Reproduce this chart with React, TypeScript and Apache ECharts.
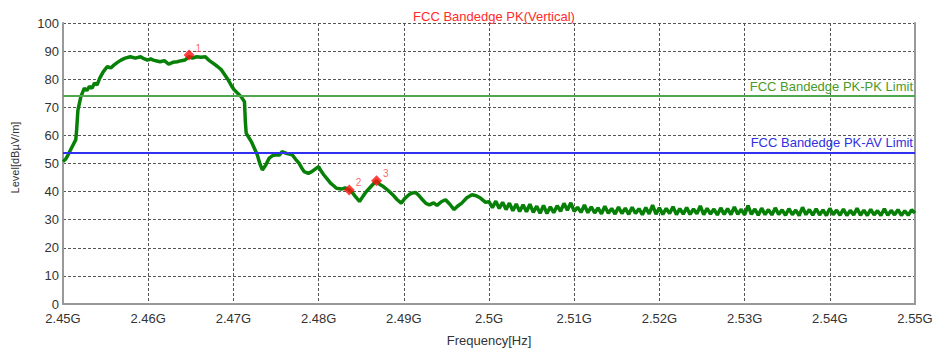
import React, { useEffect, useRef } from "react";
import * as echarts from "echarts";

const titleText = "FCC Bandedge PK(Vertical)";
const xName = "Frequency[Hz]";
const yName = "Level[dBµV/m]";

const xTicksMHz = [2450, 2460, 2470, 2480, 2490, 2500, 2510, 2520, 2530, 2540, 2550];
const yTicks = [0, 10, 20, 30, 40, 50, 60, 70, 80, 90, 100];

const pkLimitName = "FCC Bandedge PK-PK Limit";
const pkLimit = 74;
const avLimitName = "FCC Bandedge PK-AV Limit";
const avLimit = 54;

// trace, part 1: frequency (MHz) and level (dBµV/m), 2450–2499.6 MHz
const traceFreq = [
  2450.0, 2450.3, 2450.6, 2451.0, 2451.5, 2451.6, 2451.75, 2452.1, 2452.5, 2452.8,
  2453.1, 2453.4, 2453.7, 2454.0, 2454.3, 2454.7, 2455.2, 2455.6, 2456.0, 2456.4,
  2456.8, 2457.3, 2457.9, 2458.5, 2459.1, 2459.5, 2459.9, 2460.3, 2460.6, 2461.0,
  2461.4, 2461.9, 2462.4, 2462.9, 2463.4, 2463.9, 2464.3, 2464.8, 2465.2, 2465.7,
  2466.2, 2466.7, 2467.1, 2467.6, 2468.1, 2468.6, 2469.0, 2469.4, 2469.8, 2470.1,
  2470.5, 2470.9, 2471.3, 2471.4, 2471.5, 2472.1, 2472.8, 2473.1, 2473.4, 2473.8,
  2474.2, 2474.6, 2475.0, 2475.4, 2475.7, 2476.3, 2476.9, 2477.3, 2477.7, 2478.0,
  2478.3, 2478.8, 2479.2, 2479.6, 2480.0, 2480.3, 2480.6, 2481.0, 2481.4, 2481.8,
  2482.1, 2482.7, 2483.1, 2483.6, 2484.0, 2484.3, 2484.8, 2485.2, 2485.6, 2486.2,
  2486.8, 2487.2, 2487.6, 2488.2, 2488.7, 2489.2, 2489.7, 2490.1, 2490.6, 2491.0,
  2491.4, 2491.8, 2492.2, 2492.6, 2493.0, 2493.5, 2493.9, 2494.4, 2494.9, 2495.4,
  2495.9, 2496.3, 2496.8, 2497.4, 2498.0, 2498.5, 2499.0, 2499.6,
];
const traceLevel = [
  50.7, 51.5, 53.1, 55.5, 58.5, 62.0, 69.0, 73.8, 76.8, 76.0,
  77.4, 76.8, 78.6, 78.0, 80.3, 82.5, 84.5, 84.0, 85.1, 86.0,
  86.8, 87.5, 88.0, 87.5, 88.0, 87.3, 86.8, 87.2, 86.8, 86.5,
  86.2, 86.6, 85.4, 86.0, 86.2, 86.6, 86.8, 88.0, 87.5, 88.0,
  87.8, 88.0, 86.8, 85.7, 84.6, 83.3, 81.5, 79.7, 77.5, 76.2,
  75.0, 73.8, 72.0, 65.0, 60.8, 57.8, 53.1, 50.0, 47.7, 49.5,
  51.9, 52.8, 53.1, 53.0, 54.2, 53.5, 53.1, 51.5, 50.1, 48.5,
  47.1, 46.5, 47.1, 48.0, 48.9, 47.3, 46.0, 44.5, 43.0, 42.0,
  41.2, 40.9, 41.3, 40.6, 39.5, 38.3, 36.5, 38.3, 40.0, 42.0,
  43.9, 42.5, 41.8, 40.3, 38.9, 37.2, 35.9, 37.5, 38.9, 39.5,
  39.7, 38.5, 37.1, 35.8, 35.3, 36.0, 35.1, 36.4, 37.1, 35.5,
  33.6, 34.8, 35.9, 37.8, 38.9, 38.5, 37.7, 36.2,
];

// trace, part 2: the noisy tail, 2500–2550 MHz
const tailFreq = [
  2500.0, 2500.4, 2500.8, 2501.2, 2501.6, 2502.0, 2502.4, 2502.8, 2503.2, 2503.6,
  2504.0, 2504.4, 2504.8, 2505.2, 2505.6, 2506.0, 2506.4, 2506.8, 2507.2, 2507.6,
  2508.0, 2508.4, 2508.8, 2509.2, 2509.6, 2510.0, 2510.4, 2510.8, 2511.2, 2511.6,
  2512.0, 2512.4, 2512.8, 2513.2, 2513.6, 2514.0, 2514.4, 2514.8, 2515.2, 2515.6,
  2516.0, 2516.4, 2516.8, 2517.2, 2517.6, 2518.0, 2518.4, 2518.8, 2519.2, 2519.6,
  2520.0, 2520.4, 2520.8, 2521.2, 2521.6, 2522.0, 2522.4, 2522.8, 2523.2, 2523.6,
  2524.0, 2524.4, 2524.8, 2525.2, 2525.6, 2526.0, 2526.4, 2526.8, 2527.2, 2527.6,
  2528.0, 2528.4, 2528.8, 2529.2, 2529.6, 2530.0, 2530.4, 2530.8, 2531.2, 2531.6,
  2532.0, 2532.4, 2532.8, 2533.2, 2533.6, 2534.0, 2534.4, 2534.8, 2535.2, 2535.6,
  2536.0, 2536.4, 2536.8, 2537.2, 2537.6, 2538.0, 2538.4, 2538.8, 2539.2, 2539.6,
  2540.0, 2540.4, 2540.8, 2541.2, 2541.6, 2542.0, 2542.4, 2542.8, 2543.2, 2543.6,
  2544.0, 2544.4, 2544.8, 2545.2, 2545.6, 2546.0, 2546.4, 2546.8, 2547.2, 2547.6,
  2548.0, 2548.4, 2548.8, 2549.2, 2549.6, 2550.0,
];
const tailLevel = [
  36.4, 34.3, 36.6, 34.0, 36.2, 33.6, 35.9, 33.2, 35.6, 32.9,
  35.3, 32.8, 35.5, 32.6, 34.8, 32.3, 35.1, 32.2, 34.6, 32.5,
  35.0, 33.0, 35.8, 33.4, 36.0, 33.0, 34.4, 32.6, 35.2, 32.5,
  34.6, 32.4, 34.2, 32.1, 34.8, 32.3, 34.0, 32.0, 34.5, 32.2,
  34.1, 31.9, 34.4, 32.2, 33.9, 31.8, 34.3, 32.1, 35.2, 32.0,
  34.2, 31.9, 34.0, 32.2, 34.6, 31.8, 33.9, 32.0, 34.3, 31.9,
  33.8, 32.1, 34.9, 31.8, 34.0, 32.0, 33.8, 31.7, 34.2, 31.9,
  33.9, 31.8, 34.5, 31.9, 33.7, 31.7, 35.0, 31.9, 33.8, 31.6,
  34.1, 31.8, 33.6, 31.7, 34.2, 31.9, 33.5, 31.6, 33.9, 31.8,
  33.4, 31.5, 34.4, 31.8, 33.6, 31.6, 33.9, 31.7, 33.5, 31.5,
  34.0, 31.8, 33.4, 31.6, 33.8, 31.5, 33.3, 31.7, 34.1, 31.6,
  33.4, 31.5, 33.7, 31.7, 33.2, 31.5, 33.9, 31.6, 33.3, 31.7,
  33.6, 31.5, 33.2, 31.6, 33.5, 32.4,
];

const markerFreq = [2464.8, 2483.6, 2486.8];
const markerLevel = [88.6, 40.6, 43.9];
const markerLabels = ["1", "2", "3"];

const FONT = "'Liberation Sans', Arial, sans-serif";

export default function App() {
  const ref = useRef<HTMLDivElement>(null);

  useEffect(() => {
    document.body.style.margin = "0";
    if (!ref.current) return;
    const chart = echarts.init(ref.current, undefined, { renderer: "svg" });
    const xMin = xTicksMHz[0];
    const xMax = xTicksMHz[xTicksMHz.length - 1];
    const trace = traceFreq
      .map((f, i) => [f, traceLevel[i]])
      .concat(tailFreq.map((f, i) => [f, tailLevel[i]]));
    const markers = markerFreq.map((f, i) => ({
      value: [f, markerLevel[i]],
      label: { formatter: markerLabels[i] },
    }));
    const limitSeries = (name: string, v: number, color: string, textColor: string) => ({
      name,
      type: "line",
      z: 2,
      symbol: "none",
      silent: true,
      data: [],
      markLine: {
        silent: true,
        symbol: ["none", "none"],
        animation: false,
        lineStyle: { color, width: 2, type: "solid" },
        label: {
          show: true,
          position: "insideEndTop",
          distance: [2, 3],
          formatter: name,
          color: textColor,
          fontSize: 13,
          fontFamily: FONT,
        },
        data: [{ yAxis: v }],
      },
    });

    chart.setOption({
      animation: false,
      backgroundColor: "#ffffff",
      title: {
        text: titleText,
        left: 489,
        top: 5,
        textAlign: "center",
        textStyle: { color: "#ff2a2a", fontSize: 13, fontWeight: "normal", fontFamily: FONT },
      },
      grid: { left: 63, right: 19, top: 23, bottom: 47, outerBoundsMode: "none", containLabel: false },
      xAxis: {
        type: "value",
        min: xMin,
        max: xMax,
        interval: 10,
        name: xName,
        nameLocation: "middle",
        nameGap: 30,
        nameTextStyle: { color: "#333", fontSize: 13, fontFamily: FONT },
        axisLine: { show: true, lineStyle: { color: "#999", width: 2 } },
        axisTick: { show: false },
        axisLabel: {
          color: "#333",
          fontSize: 13,
          fontFamily: FONT,
          margin: 8,
          formatter: (v: number) => v / 1000 + "G",
        },
        splitLine: { show: true, lineStyle: { color: "#555", type: [3, 2], width: 1 } },
      },
      yAxis: [
        {
          type: "value",
          min: yTicks[0],
          max: yTicks[yTicks.length - 1],
          interval: 10,
          name: yName,
          nameLocation: "middle",
          nameGap: 43,
          nameTextStyle: { color: "#333", fontSize: 11, fontFamily: FONT, padding: [0, 0, 0, 12] },
          axisLine: { show: true, lineStyle: { color: "#999", width: 2 } },
          axisTick: { show: false },
          axisLabel: { color: "#333", fontSize: 13, fontFamily: FONT, margin: 4 },
          splitLine: { show: true, lineStyle: { color: "#555", type: [3, 2], width: 1 } },
        },
        {
          type: "value",
          position: "right",
          min: yTicks[0],
          max: yTicks[yTicks.length - 1],
          interval: 10,
          axisLine: { show: true, lineStyle: { color: "#999", width: 2 } },
          axisTick: { show: false },
          axisLabel: { show: false },
          splitLine: { show: false },
        },
      ],
      series: [
        limitSeries(pkLimitName, pkLimit, "#4fa84f", "#4b9a2a"),
        limitSeries(avLimitName, avLimit, "#3030f0", "#3030e0"),
        {
          name: "trace",
          type: "line",
          z: 3,
          symbol: "none",
          lineStyle: { color: "#078007", width: 3.5 },
          data: trace,
        },
        {
          name: "markers",
          type: "scatter",
          z: 4,
          symbol: "diamond",
          symbolSize: 11,
          itemStyle: { color: "#ff1010" },
          label: {
            show: true,
            position: "right",
            distance: 1,
            offset: [0, -7],
            color: "#ff4040",
            fontSize: 10,
            fontFamily: FONT,
          },
          data: markers,
        },
      ],
    });
    return () => chart.dispose();
  }, []);

  return <div ref={ref} style={{ width: 934, height: 351 }} />;
}
